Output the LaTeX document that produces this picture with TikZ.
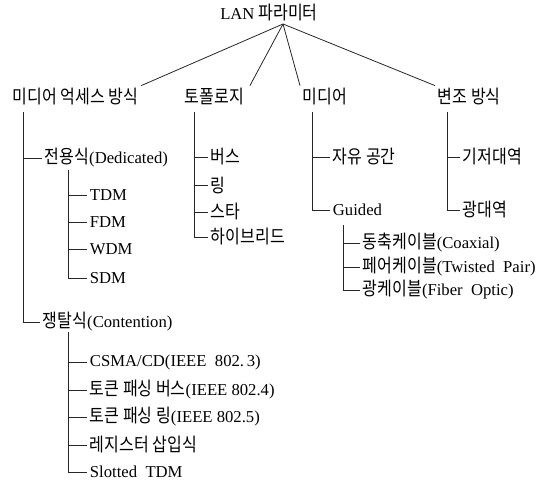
\documentclass[tikz,border=0pt]{standalone}
\usepackage{fontspec}
\setmainfont{Liberation Serif}
\newfontfamily\kr[Scale=1.12, FakeStretch=0.86]{Noto Sans CJK KR}
\usepackage{tikz}
\usetikzlibrary{positioning, calc}

\begin{document}
\begin{tikzpicture}[x=0.75pt, y=-0.75pt,
  every node/.style={font=\fontsize{12.5}{15}\selectfont, inner sep=2pt},
  item/.style={anchor=west},
  link/.style={draw=black!85, line width=0.6pt}]
\useasboundingbox (0,0) rectangle (549,482);
% root and first level
\node (root) at (269,13) {LAN {\kr 파라미터}};
\node[item] (acc)  at (10,97)  {\kr 미디어 억세스 방식};
\node[item] (topo) at (182,97) {\kr 토폴로지};
\node[item] (med)  at (300,97) {\kr 미디어};
\node[item] (mod)  at (435,97) {\kr 변조 방식};
\coordinate (apex) at (283,24);
\draw[link] (apex) -- (acc.north east);
\draw[link] (apex) -- ($(topo.north east)+(3,0)$);
\draw[link] (apex) -- (med.north west);
\draw[link] (apex) -- (mod.north west);
% media access
\coordinate (accT) at (23,112);
\node[item] (ded) at (42,158) {{\kr 전용식}(Dedicated)};
\node[item] (con) at (40,322) {{\kr 쟁탈식}(Contention)};
\draw[link] (accT) |- (ded.west);
\draw[link] (accT) |- (con.west);
\coordinate (dedT) at (68,170);
\node[item] (tdm) at (87,195) {TDM};
\node[item] (fdm) at (87,222) {FDM};
\node[item] (wdm) at (87,249) {WDM};
\node[item] (sdm) at (87,278) {SDM};
\foreach \c in {tdm,fdm,wdm,sdm} \draw[link] (dedT) |- (\c.west);
\coordinate (conT) at (68,332);
\node[item] (csma) at (87,362) {CSMA/CD(IEEE\enspace 802.\,3)};
\node[item] (tbus) at (87,390) {{\kr 토큰 패싱 버스}(IEEE 802.4)};
\node[item] (tring) at (87,417) {{\kr 토큰 패싱 링}(IEEE 802.5)};
\node[item] (rins) at (87,445) {\kr 레지스터 삽입식};
\node[item] (stdm) at (87,472) {Slotted\enspace TDM};
\foreach \c in {csma,tbus,tring,rins,stdm} \draw[link] (conT) |- (\c.west);
% topology
\coordinate (topoT) at (194,112);
\node[item] (bus)  at (208,157) {\kr 버스};
\node[item] (ring) at (208,185) {\kr 링};
\node[item] (star) at (208,212) {\kr 스타};
\node[item] (hyb)  at (208,237) {\kr 하이브리드};
\foreach \c in {bus,ring,star,hyb} \draw[link] (topoT) |- (\c.west);
% media
\coordinate (medT) at (312,112);
\node[item] (free) at (330,157) {\kr 자유 공간};
\node[item] (gui)  at (330,210) {Guided};
\draw[link] (medT) |- (free.west);
\draw[link] (medT) |- (gui.west);
\coordinate (guiT) at (343,225);
\node[item] (coax) at (360,243) {{\kr 동축케이블}(Coaxial)};
\node[item] (pair) at (360,267) {{\kr 페어케이블}(Twisted\enspace Pair)};
\node[item] (fib)  at (360,290) {{\kr 광케이블}(Fiber\enspace Optic)};
\foreach \c in {coax,pair,fib} \draw[link] (guiT) |- (\c.west);
% modulation
\coordinate (modT) at (447,112);
\node[item] (base) at (460,157) {\kr 기저대역};
\node[item] (broad) at (460,210) {\kr 광대역};
\draw[link] (modT) |- (base.west);
\draw[link] (modT) |- (broad.west);
\end{tikzpicture}
\end{document}
